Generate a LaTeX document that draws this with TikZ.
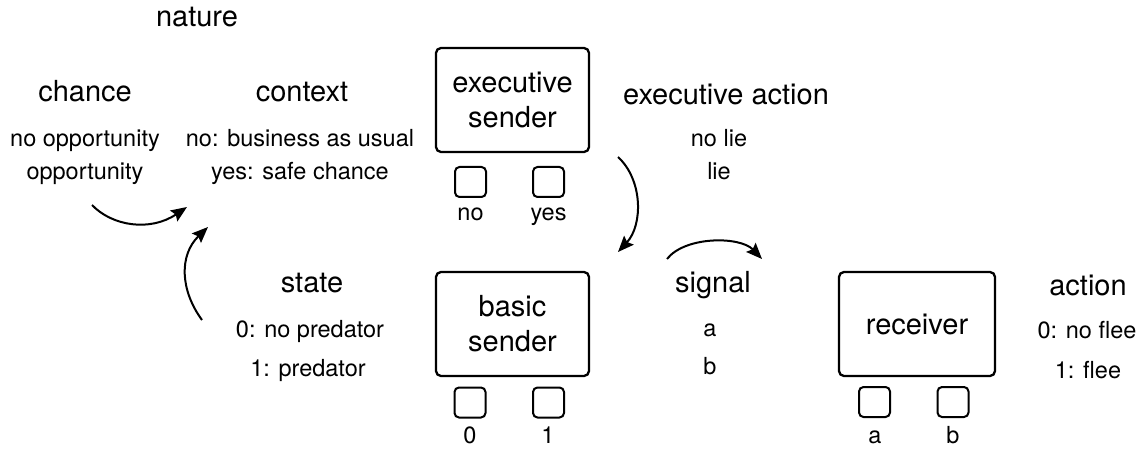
\documentclass[tikz,border=0pt]{standalone}
\usepackage{fontspec}
\setmainfont{TeX Gyre Heros}
\usetikzlibrary{arrows.meta}

\tikzset{
  head/.style={anchor=base, inner sep=0pt, font=\fontsize{29}{34}\selectfont},
  item/.style={anchor=base, inner sep=0pt, font=\fontsize{23.5}{28}\selectfont},
  panel/.style={draw, line width=2.3pt, rounded corners=5pt, minimum width=153pt,
    minimum height=104pt, align=center, font=\fontsize{29}{35}\selectfont},
  slot/.style={draw, line width=2pt, rounded corners=4.5pt, minimum width=31pt,
    minimum height=30pt, inner sep=0pt},
  flow/.style={line width=2pt, -{Stealth[length=16pt,width=13pt,inset=2.5pt]}},
}

\begin{document}
\begin{tikzpicture}[x=1pt,y=-1pt]
    \useasboundingbox (0,0) rectangle (1141,449);

    % nature: chance and context
    \node[head] (nature) at (197,27) {nature};
    \node[head] (chance) at (85,102) {chance};
    \node[item] (chance-no) at (85,147) {no opportunity};
    \node[item] (chance-yes) at (85,180) {opportunity};
    \node[head] (context) at (302,102) {context};
    \node[item] (context-no) at (300,147) {no: business as usual};
    \node[item] (context-yes) at (300,180) {yes: safe chance};

    % executive sender and its action
    \node[panel] (exec) at (512.5,100) {executive\\sender};
    \node[slot] (exec-no) at (470.5,182) {};
    \node[slot] (exec-yes) at (548.5,182) {};
    \node[item] (exec-no-lbl) at (470.5,221) {no};
    \node[item] (exec-yes-lbl) at (548.5,221) {yes};
    \node[head] (execact) at (726,105) {executive action};
    \node[item] (execact-no) at (719,147) {no lie};
    \node[item] (execact-yes) at (719,180) {lie};

    % state and basic sender
    \node[head] (state) at (312,293) {state};
    \node[item] (state-0) at (310,337) {0: no predator};
    \node[item] (state-1) at (308,376) {1: predator};
    \node[panel] (basic) at (512.5,324) {basic\\sender};
    \node[slot] (basic-0) at (470,402.5) {};
    \node[slot] (basic-1) at (548.5,402.5) {};
    \node[item] (basic-0-lbl) at (470,443) {0};
    \node[item] (basic-1-lbl) at (548,443) {1};

    % signal, receiver, action
    \node[head] (signal) at (713,293) {signal};
    \node[item] (signal-a) at (710,336) {a};
    \node[item] (signal-b) at (710,374) {b};
    \node[panel, minimum width=156pt] (recv) at (917,324) {receiver};
    \node[slot] (recv-a) at (874.5,402) {};
    \node[slot] (recv-b) at (953,402) {};
    \node[item] (recv-a-lbl) at (875,443) {a};
    \node[item] (recv-b-lbl) at (953,443) {b};
    \node[head] (action) at (1088,295) {action};
    \node[item] (action-0) at (1087,338) {0: no flee};
    \node[item] (action-1) at (1088,378) {1: flee};

    % arrow ends
    \coordinate (chance-out) at (92,205);
    \coordinate (context-in) at (187,207);
    \coordinate (state-out) at (202,320);
    \coordinate (context-in2) at (208,227);
    \coordinate (exec-out) at (618,157);
    \coordinate (basic-in) at (618,252);
    \coordinate (signal-out) at (667,259);
    \coordinate (recv-in) at (762,259);

    \draw[flow] (chance-out) .. controls (112,226) and (150,232) .. (context-in);
    \draw[flow] (state-out) .. controls (180,290) and (179,255) .. (context-in2);
    \draw[flow] (exec-out) .. controls (643,180) and (643,225) .. (basic-in);
    \draw[flow] (signal-out) .. controls (685,236) and (740,236) .. (recv-in);
\end{tikzpicture}
\end{document}
